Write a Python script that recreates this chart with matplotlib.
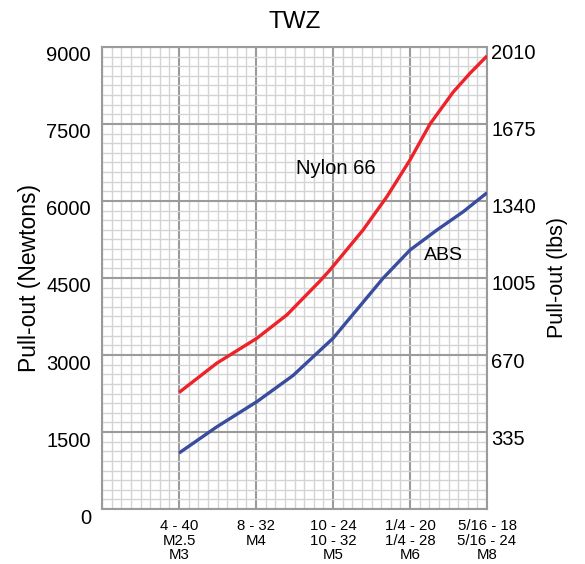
import matplotlib
matplotlib.use("Agg")
import matplotlib.pyplot as plt
from matplotlib.ticker import MultipleLocator
from matplotlib.transforms import ScaledTranslation

# data
nylon_x = [1.0, 1.49, 2.01, 2.40, 2.83, 2.96, 3.39, 3.70, 4.0, 4.26, 4.56, 4.78, 5.0]
nylon_y = [2270, 2840, 3325, 3780, 4440, 4655, 5435, 6085, 6800, 7500, 8120, 8490, 8825]
abs_x = [1.0, 1.49, 2.01, 2.48, 3.0, 3.65, 4.0, 4.35, 4.69, 5.0]
abs_y = [1090, 1600, 2090, 2600, 3325, 4495, 5045, 5435, 5790, 6160]

tick_pos = [1, 2, 3, 4, 5]
tick_labels = ["4 - 40\nM2.5\nM3", "8 - 32\nM4", "10 - 24\n10 - 32\nM5",
               "1/4 - 20\n1/4 - 28\nM6", "5/16 - 18\n5/16 - 24\nM8"]
left_ticks = [0, 1500, 3000, 4500, 6000, 7500, 9000]
right_ticks = [335, 670, 1005, 1340, 1675, 2010]

matplotlib.rcParams['font.family'] = ['Liberation Sans', 'DejaVu Sans']

MAJOR = '#9b9b9b'
MINOR = '#d4d4d4'

fig = plt.figure(figsize=(5.85, 5.64), dpi=100)
ax = fig.add_axes([0.1744, 0.0975, 0.6581, 0.8192])

ax.set_xlim(0, 5)
ax.set_ylim(0, 9000)
ax.xaxis.set_major_locator(MultipleLocator(1))
ax.xaxis.set_minor_locator(MultipleLocator(1 / 8))
ax.yaxis.set_major_locator(MultipleLocator(1500))
ax.yaxis.set_minor_locator(MultipleLocator(1500 / 8))
ax.grid(which='minor', color=MINOR, linewidth=1.0)
ax.grid(which='major', color=MAJOR, linewidth=1.5)
ax.set_axisbelow(True)

ax.set_xticks(tick_pos)
ax.set_xticklabels(tick_labels, fontsize=10.8, linespacing=1.08)
ax.set_yticks(left_ticks)
ax.set_yticklabels([str(v) for v in left_ticks], fontsize=14.5)
ax.tick_params(which='both', length=0)
ax.tick_params(axis='x', pad=7)
ax.tick_params(axis='y', pad=8)

# numbers sit a little below their grid lines in the original
down_l = ScaledTranslation(0, -0.07, fig.dpi_scale_trans)
for lab in ax.get_yticklabels():
    lab.set_transform(lab.get_transform() + down_l)

for s in ax.spines.values():
    s.set_color(MAJOR)
    s.set_linewidth(1.5)

ax.plot(nylon_x, nylon_y, color='#ee2229', linewidth=2.4, zorder=3,
        solid_joinstyle='round', solid_capstyle='butt')
ax.plot(abs_x, abs_y, color='#3a4c9e', linewidth=2.4, zorder=3,
        solid_joinstyle='round', solid_capstyle='butt')

ax.text(3.03, 6640, "Nylon 66", fontsize=14.5, ha='center', va='center')
ax.text(4.44, 4930, "ABS", fontsize=14, ha='center', va='center')

ax.set_ylabel("Pull-out (Newtons)", fontsize=16.5, labelpad=4)
ax.set_title("TWZ", fontsize=17.5, pad=14)

ax2 = ax.twinx()
ax2.set_ylim(0, 2010)
ax2.set_yticks(right_ticks)
ax2.set_yticklabels([str(v) for v in right_ticks], fontsize=14.5)
ax2.tick_params(length=0, pad=3)
down_r = ScaledTranslation(0, -0.05, fig.dpi_scale_trans)
for lab in ax2.get_yticklabels():
    lab.set_transform(lab.get_transform() + down_r)
for s in ax2.spines.values():
    s.set_visible(False)
ax2.set_ylabel("Pull-out (lbs)", fontsize=15.5, labelpad=8)

fig.savefig("out.png", dpi=100)
